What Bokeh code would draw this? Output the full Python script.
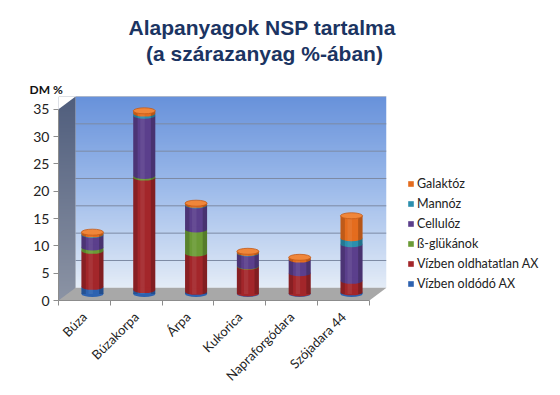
import numpy as np
from bokeh.plotting import figure
from bokeh.models import Range1d, FixedTicker, Title, Legend, LegendItem
from bokeh.embed import file_html
from bokeh.resources import INLINE

# ---------------- data ----------------
categories = ["Búza", "Búzakorpa", "Árpa", "Kukorica", "Napraforgódara", "Szójadara 44"]
series_names = ["Vízben oldódó AX", "Vízben oldhatatlan AX", "ß-glükánok",
                "Cellulóz", "Mannóz", "Galaktóz"]
soluble_ax = [1.3, 0.7, 0.4, 0.1, 0.1, 0.3]
insoluble_ax = [6.6, 20.6, 7.0, 4.9, 3.7, 2.1]
beta_glucans = [0.6, 0.3, 4.4, 0.1, 0.0, 0.0]
cellulose = [2.3, 11.0, 4.4, 2.3, 2.5, 6.7]
mannose = [0.1, 0.4, 0.1, 0.1, 0.0, 1.1]
galactose = [0.4, 0.5, 0.3, 0.3, 0.4, 4.1]
y_ticks = [0, 5, 10, 15, 20, 25, 30, 35]

series_values = [soluble_ax, insoluble_ax, beta_glucans, cellulose, mannose, galactose]
series_colors = ["#2d62b0", "#a3262a", "#6b9b36", "#5b3f8c", "#2b8fae", "#e46c1e"]
cap_color = "#f0863a"

# ---------------- style / geometry ----------------
DEPTH_X = 0.33      # 3D depth of the chart box, x units
DEPTH_Y = 2.32      # 3D depth of the chart box, y units
BAR_DX = 0.155      # bar offset (mid depth)
BAR_BASE = 1.2      # bar base (mid depth)
BAR_W = 0.425
CAP_H = 1.1
SHADE_W = BAR_W * 0.2
n_cat = len(categories)
X_END = n_cat + DEPTH_X
Y_END = y_ticks[-1] + DEPTH_Y

FONT = "Lato"

p = figure(frame_width=328, frame_height=204,
           x_range=Range1d(0, X_END), y_range=Range1d(0, Y_END),
           output_backend="svg", toolbar_location=None, title=None,
           min_border_left=58, min_border_top=96, min_border_right=160,
           min_border_bottom=80)
p.outline_line_color = None
p.xgrid.visible = False
p.ygrid.visible = False
p.background_fill_color = "white"
p.border_fill_color = "white"

# back wall gradient
n = 200
t = np.linspace(0, 1, n)
stops = [0.0, 0.5, 1.0]
cols = [(228, 236, 247), (160, 189, 235), (104, 146, 219)]
img = np.empty((n, 1), dtype=np.uint32)
view = img.view(dtype=np.uint8).reshape((n, 1, 4))
for ch in range(3):
    view[:, 0, ch] = np.interp(t, stops, [c[ch] for c in cols]).astype(np.uint8)
view[:, 0, 3] = 255
p.image_rgba(image=[img], x=DEPTH_X, y=DEPTH_Y, dw=X_END - DEPTH_X, dh=Y_END - DEPTH_Y)

# back wall gridlines
gy = [v + DEPTH_Y for v in y_ticks[1:]]
p.segment(x0=[DEPTH_X] * len(gy), y0=gy, x1=[X_END] * len(gy), y1=gy,
          line_color="#7d8aa3", line_width=1)

# side wall (vertical gradient)
simg = np.empty((n, 1), dtype=np.uint32)
sview = simg.view(dtype=np.uint8).reshape((n, 1, 4))
scols = [(140, 148, 165), (80, 94, 125)]
for ch in range(3):
    sview[:, 0, ch] = np.interp(t, [0, 1], [c[ch] for c in scols]).astype(np.uint8)
sview[:, 0, 3] = 255
p.image_rgba(image=[simg], x=0, y=0, dw=DEPTH_X, dh=Y_END)
# mask the parts of the side-wall box that are not the wall
p.patch([0, DEPTH_X, 0], [y_ticks[-1], Y_END, Y_END], fill_color="white", line_color=None)
# floor
p.patch([0, DEPTH_X, X_END, n_cat], [0, DEPTH_Y, DEPTH_Y, 0],
        fill_color="#a8a8a8", line_color=None)

# stacked cylinders
xs = [i + 0.5 + BAR_DX for i in range(n_cat)]
bottom = [BAR_BASE] * n_cat
renderers = []
for vals, col in zip(series_values, series_colors):
    top = [b + v for b, v in zip(bottom, vals)]
    r = p.vbar(x=xs, bottom=bottom, top=top, width=BAR_W,
               fill_color=col, line_color=None)
    renderers.append(r)
    ex = [x for x, v in zip(xs, vals) if v > 0]
    ey = [b for b, v in zip(bottom, vals) if v > 0]
    p.ellipse(x=ex, y=ey, width=BAR_W, height=CAP_H, fill_color=col, line_color=None)
    bottom = top
# cylinder shading: darker edges, light highlight
off = BAR_W / 2 - SHADE_W / 2
p.vbar(x=[x - off for x in xs], bottom=[BAR_BASE] * n_cat, top=bottom, width=SHADE_W,
       fill_color="black", fill_alpha=0.16, line_color=None)
p.vbar(x=[x + off for x in xs], bottom=[BAR_BASE] * n_cat, top=bottom, width=SHADE_W,
       fill_color="black", fill_alpha=0.2, line_color=None)
p.vbar(x=[x - BAR_W * 0.08 for x in xs], bottom=[BAR_BASE] * n_cat, top=bottom,
       width=BAR_W * 0.2, fill_color="white", fill_alpha=0.07, line_color=None)
p.ellipse(x=xs, y=bottom, width=BAR_W, height=CAP_H, fill_color=cap_color,
          line_color="#c45a18", line_width=0.8)

# axes
xa = p.xaxis[0]
xa.ticker = FixedTicker(ticks=[i + 0.5 for i in range(n_cat)],
                        minor_ticks=list(range(n_cat + 1)))
xa.major_label_overrides = {i + 0.5: c for i, c in enumerate(categories)}
xa.major_label_orientation = np.pi / 4
xa.major_tick_line_color = None
xa.major_tick_out = 0
xa.major_tick_in = 0
xa.minor_tick_out = 5
xa.minor_tick_in = 0
xa.minor_tick_line_color = "#8c8c8c"
xa.axis_line_color = "#8c8c8c"
xa.bounds = (0, n_cat)
xa.major_label_text_font = FONT
xa.major_label_text_font_size = "13px"
xa.major_label_text_color = "#222222"
xa.major_label_standoff = 9

ya = p.yaxis[0]
ya.ticker = FixedTicker(ticks=y_ticks)
ya.bounds = (0, y_ticks[-1])
ya.major_tick_out = 5
ya.major_tick_in = 0
ya.minor_tick_line_color = None
ya.major_tick_line_color = "#8c8c8c"
ya.axis_line_color = "#8c8c8c"
ya.major_label_text_font = FONT
ya.major_label_text_font_size = "14px"
ya.major_label_text_color = "#222222"
ya.major_label_standoff = 4

# titles (added nearest-first)
p.add_layout(Title(text="DM %", align="left", offset=-29, standoff=0,
                   text_font=FONT, text_font_size="12px", text_font_style="bold",
                   text_color="#111111"), "above")
p.add_layout(Title(text="Alapanyagok NSP tartalma\n\u00a0\u00a0\u00a0(a szárazanyag %-ában)",
                   align="left", offset=70, standoff=28, text_line_height=1.15,
                   text_font="Liberation Sans", text_font_size="21px",
                   text_font_style="bold", text_color="#1b3462"), "above")

# legend
items = [LegendItem(label=name, renderers=[r])
         for name, r in zip(series_names[::-1], renderers[::-1])]
legend = Legend(items=items, location=(21, 7), orientation="vertical",
                glyph_width=7, glyph_height=7, label_standoff=3,
                label_height=20, spacing=0, padding=0, margin=0,
                label_text_font=FONT, label_text_font_size="12.5px",
                label_text_color="#222222",
                background_fill_alpha=0, border_line_alpha=0)
p.add_layout(legend, "right")

open("out.html", "w").write(file_html(p, INLINE))
